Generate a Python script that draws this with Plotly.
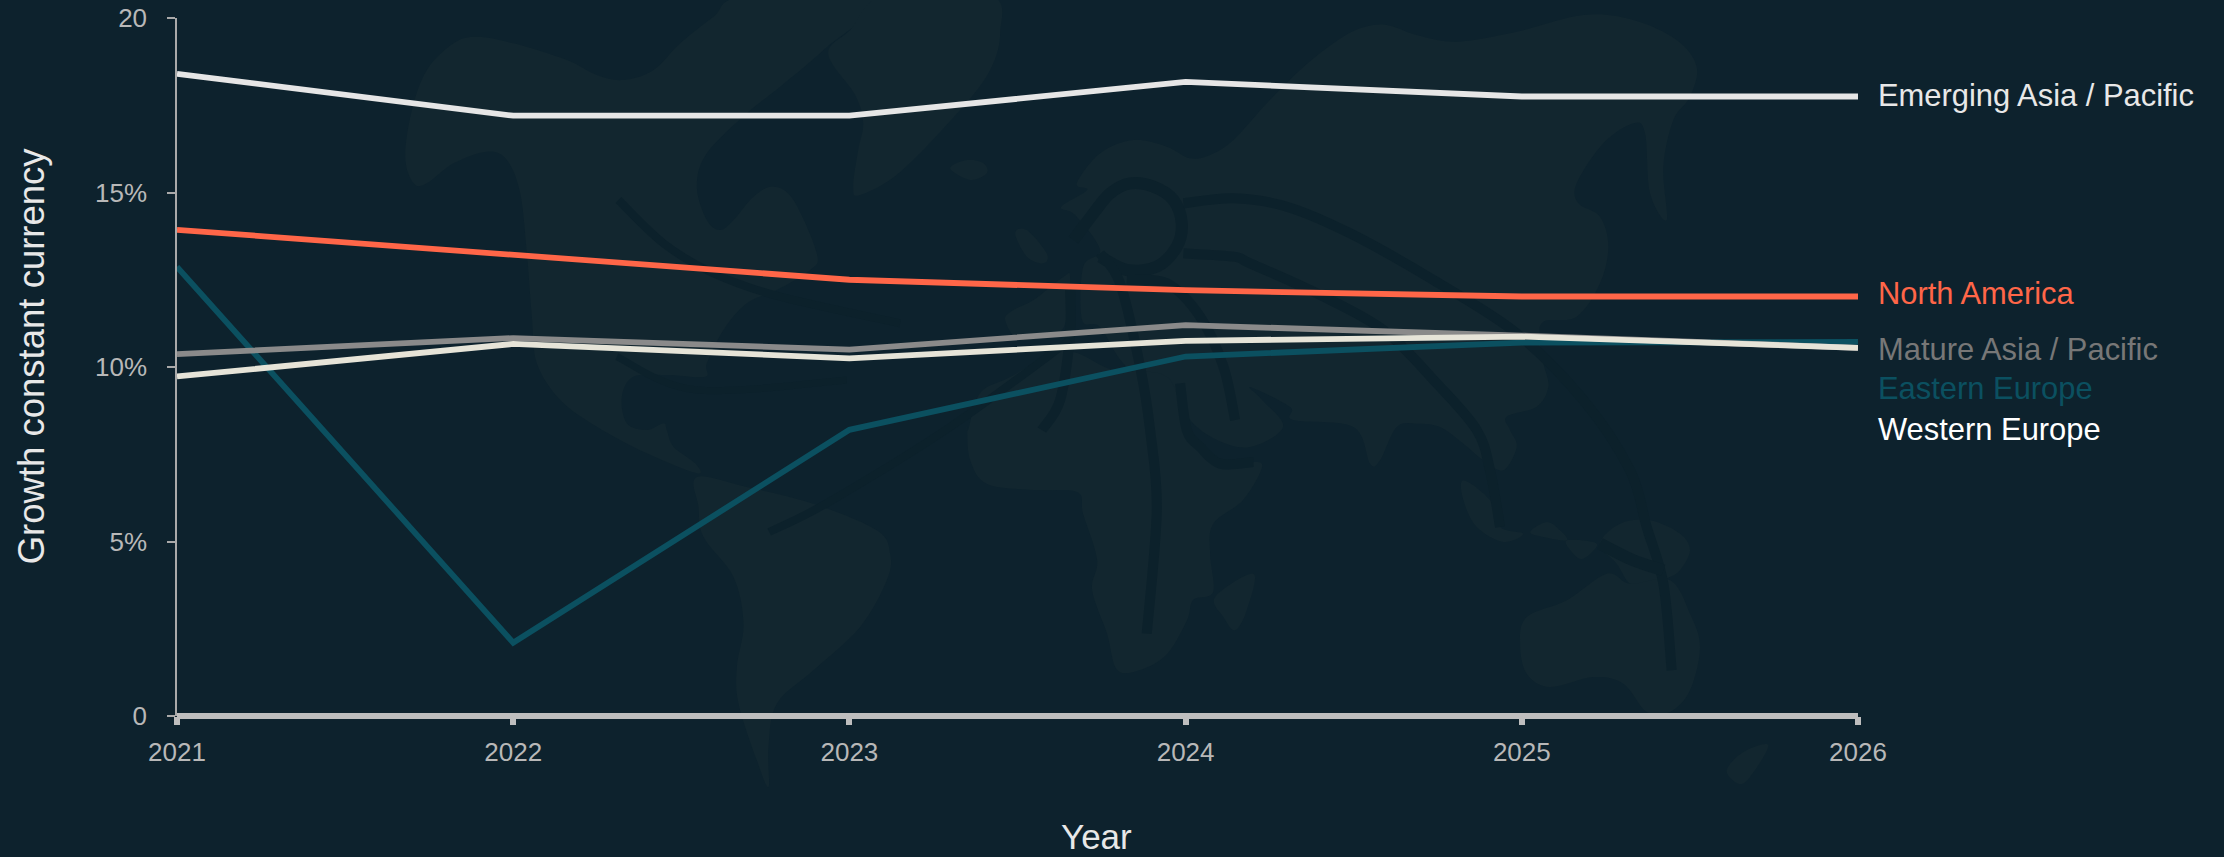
import plotly.graph_objects as go

# ---- chart data ----
years = [2021, 2022, 2023, 2024, 2025, 2026]
emerging_asia_pacific = [18.4, 17.2, 17.2, 18.17, 17.75, 17.75]
north_america = [13.93, 13.2, 12.5, 12.2, 12.02, 12.02]
mature_asia_pacific = [10.37, 10.83, 10.5, 11.2, 10.9, 10.55]
eastern_europe = [12.87, 2.1, 8.2, 10.3, 10.7, 10.72]
western_europe = [9.73, 10.66, 10.25, 10.75, 10.87, 10.55]

y_tick_values = [0, 5, 10, 15, 20]
y_tick_labels = ["0", "5%", "10%", "15%", "20"]

# ---- page geometry ----
W, H = 2224, 857
LEFT, RIGHT, TOP, BOTTOM = 176.75, 1858, 18, 716

BG = "#0d222d"
LAND = "#12262f"
ROUTE = "#0c212b"


def px(x, y):
    """Page pixels to paper fractions."""
    return (x - LEFT) / (RIGHT - LEFT), (BOTTOM - y) / (BOTTOM - TOP)


def tile(ox, oy, pts):
    """Outline sketched at triple scale, placed with its corner at (ox, oy)."""
    return [(ox + a / 3, oy + b / 3) for a, b in pts]


def smooth_path(pts, closed):
    """Catmull-Rom spline through pts, written as an SVG path in paper units."""
    n = len(pts)
    at = (lambda i: pts[i % n]) if closed else (lambda i: pts[max(0, min(n - 1, i))])
    x0, y0 = px(*pts[0])
    d = [f"M{x0:.5f},{y0:.5f}"]
    for i in range(n if closed else n - 1):
        p0, p1, p2, p3 = at(i - 1), at(i), at(i + 1), at(i + 2)
        c1 = px(p1[0] + (p2[0] - p0[0]) / 6, p1[1] + (p2[1] - p0[1]) / 6)
        c2 = px(p2[0] - (p3[0] - p1[0]) / 6, p2[1] - (p3[1] - p1[1]) / 6)
        e = px(*p2)
        d.append(f"C{c1[0]:.5f},{c1[1]:.5f} {c2[0]:.5f},{c2[1]:.5f} {e[0]:.5f},{e[1]:.5f}")
    if closed:
        d.append("Z")
    return "".join(d)


# ---- watermark world map: land masses ----
north_america_land = tile(380, 0, [
    (100, 550), (75, 470), (95, 330), (140, 210), (220, 130), (290, 110), (400, 130),
    (560, 180), (650, 225), (730, 240), (820, 210), (900, 130), (1000, 50), (1090, -10),
    (1490, -10), (1330, 150), (1200, 260), (1100, 340), (980, 460), (950, 560), (980, 660),
    (1020, 690), (1060, 660), (1120, 590), (1180, 560), (1240, 600), (1310, 760), (1290, 810),
    (1190, 870), (1100, 910), (1030, 990), (980, 1090), (975, 1130), (860, 1125), (760, 1130),
    (725, 1190), (740, 1270), (800, 1290), (850, 1270), (860, 1290), (880, 1340), (945, 1390),
    (950, 1420), (800, 1360), (650, 1280), (540, 1200), (470, 1090), (455, 950), (440, 760),
    (420, 580), (380, 480), (320, 455), (220, 490), (140, 550),
])
south_america_land = tile(380, 427, [
    (950, 150), (1100, 180), (1300, 230), (1490, 310), (1530, 380), (1520, 460), (1440, 600),
    (1300, 730), (1190, 830), (1165, 960), (1165, 1080), (1130, 1000), (1075, 830), (1070, 720),
    (1090, 590), (1060, 450), (970, 330), (955, 240),
])
greenland_land = [
    (860, 195), (853, 187), (858, 150), (863, 123), (855, 95), (828, 54), (850, 30), (885, -5),
    (990, -5), (1000, 33), (990, 70), (960, 110), (900, 172),
]
eurasia_land = (
    tile(900, 0, [
        (530, 550), (600, 460), (700, 420), (800, 440), (870, 475), (930, 465), (1000, 420),
        (1100, 310), (1200, 210), (1300, 130), (1380, 85), (1460, 75),
    ])
    + tile(1250, 0, [
        (500, 105), (620, 125), (800, 95), (1000, 45), (1150, 60), (1280, 120), (1340, 200),
        (1320, 290), (1270, 360), (1240, 500), (1250, 660), (1200, 580), (1185, 400), (1150, 370),
        (1060, 430), (980, 550), (985, 610), (1050, 650), (1075, 740), (1050, 850), (980, 950),
        (880, 965), (870, 1020), (880, 1090), (895, 1160), (860, 1220), (770, 1250), (780, 1290),
    ])
    + tile(1250, 427, [
        (800, 60), (760, 130), (700, 100), (640, 50), (570, 0), (500, -10), (440, 0), (390, 100),
        (360, 110), (310, 0),
    ])
    + [(1293, 420), (1290, 407), (1250, 387), (1262, 400), (1283, 427), (1250, 447), (1217, 440),
       (1190, 420), (1180, 395), (1127, 367), (1100, 327), (1082, 320), (1083, 267), (1100, 250),
       (1075, 215), (1061, 207), (1087, 190)]
)
africa_land = [
    (968, 430), (980, 393), (1010, 377), (1053, 353), (1077, 353), (1113, 370), (1167, 377),
    (1187, 427), (1220, 464), (1250, 462), (1262, 467), (1243, 500), (1213, 524), (1210, 554),
    (1213, 592), (1193, 600), (1187, 620), (1167, 654), (1140, 670), (1117, 670), (1107, 634),
    (1092, 590), (1097, 560), (1083, 514), (1077, 492), (1033, 490), (987, 484), (970, 460),
    (967, 427),
]
madagascar_land = tile(900, 427, [(945, 510), (1060, 440), (1040, 550), (1005, 610), (970, 570)])
iberia_land = tile(900, 0, [
    (315, 960), (340, 930), (400, 900), (490, 830), (510, 830), (500, 950), (470, 1000), (360, 1020),
])
britain_land = tile(900, 0, [(345, 700), (380, 690), (440, 760), (430, 790), (380, 770)])
iceland_land = tile(900, 0, [(150, 505), (200, 480), (250, 490), (260, 520), (210, 540)])
sumatra_land = tile(1250, 427, [
    (640, 160), (640, 220), (680, 300), (760, 345), (820, 320), (750, 300), (720, 220),
])
java_land = tile(1250, 427, [(840, 315), (890, 285), (930, 310), (950, 340), (880, 330)])
timor_land = tile(1250, 427, [(950, 340), (1040, 350), (1000, 395), (970, 380)])
new_guinea_land = tile(1250, 427, [
    (1050, 350), (1110, 290), (1200, 280), (1290, 320), (1320, 370), (1290, 430), (1250, 455),
    (1200, 480), (1140, 470), (1100, 410),
])
australia_land = tile(1250, 427, [
    (810, 650), (830, 570), (950, 520), (1070, 440), (1140, 470), (1260, 460), (1320, 560),
    (1350, 660), (1320, 790), (1260, 855), (1190, 855), (1120, 770), (1030, 750), (900, 780),
    (830, 740),
])
new_zealand_land = tile(1250, 427, [(1430, 1030), (1480, 975), (1555, 955), (1500, 1050), (1465, 1070)])

land_masses = [
    north_america_land, south_america_land, greenland_land, eurasia_land, africa_land,
    madagascar_land, iberia_land, britain_land, iceland_land, sumatra_land, java_land,
    timor_land, new_guinea_land, australia_land, new_zealand_land,
]

# ---- watermark world map: route curves radiating from the hub ----
hub_ring = tile(900, 0, [
    (600, 770), (680, 810), (770, 800), (830, 740), (845, 670), (820, 600), (760, 560), (690, 550),
    (630, 580), (580, 640), (520, 720),
])
route_far_east = (
    tile(900, 0, [(850, 610), (1000, 595), (1160, 620)])
    + tile(1250, 0, [(300, 700), (550, 840), (800, 1000), (1000, 1200)])
    + tile(1250, 427, [(1140, 130), (1190, 300), (1240, 470), (1265, 730)])
)
route_indonesia = (
    tile(900, 0, [(850, 760), (1000, 770)])
    + tile(1250, 0, [(0, 790), (200, 880), (400, 990), (560, 1150), (680, 1290)])
    + tile(1250, 427, [(720, 130), (750, 300)])
)
route_south_africa = (
    tile(900, 0, [(600, 760), (660, 850), (720, 1100), (750, 1290)])
    + tile(900, 427, [(770, 250), (740, 620)])
)
route_indian_ocean = tile(900, 0, [(680, 840), (800, 850), (900, 950), (970, 1100), (1005, 1260)])
route_west_africa = tile(900, 0, [(510, 870), (510, 1000), (480, 1200), (425, 1290)])
route_red_sea = (
    tile(900, 0, [(840, 1150), (860, 1290)])
    + tile(900, 427, [(900, 60), (960, 110), (1060, 105)])
)
route_north_atlantic = tile(380, 0, [(715, 600), (850, 730), (1000, 820), (1200, 890), (1560, 970)])
route_south_atlantic = [(769, 532), (827, 503), (950, 427), (1070, 340)]
route_caribbean = tile(380, 0, [(710, 1070), (950, 1170), (1400, 1140)])
route_australia_north = tile(1250, 427, [(1050, 350), (1150, 400), (1240, 430)])

route_curves = [
    (hub_ring, 12), (route_far_east, 10), (route_indonesia, 10), (route_south_africa, 10),
    (route_indian_ocean, 10), (route_west_africa, 10), (route_red_sea, 10),
    (route_north_atlantic, 8), (route_south_atlantic, 8), (route_caribbean, 7),
    (route_australia_north, 12),
]

shapes = []
for outline in land_masses:
    shapes.append(dict(type="path", xref="paper", yref="paper", layer="below",
                       path=smooth_path(outline, True), fillcolor=LAND, line=dict(width=0)))
for curve, width in route_curves:
    shapes.append(dict(type="path", xref="paper", yref="paper", layer="below",
                       path=smooth_path(curve, False), line=dict(color=ROUTE, width=width)))

# ---- series, back to front ----
series = [
    ("Emerging Asia / Pacific", emerging_asia_pacific, "#e6e6e6"),
    ("North America", north_america, "#ff6648"),
    ("Eastern Europe", eastern_europe, "#0b5060"),
    ("Mature Asia / Pacific", mature_asia_pacific, "#8a8a8a"),
    ("Western Europe", western_europe, "#e6e4d8"),
]

fig = go.Figure()
for name, values, color in series:
    fig.add_trace(go.Scatter(x=years, y=values, mode="lines", name=name, cliponaxis=False,
                             line=dict(color=color, width=5.8), hoverinfo="skip"))

# ---- end-of-line labels, nudged apart so they stay readable ----
end_labels = [
    ("Emerging Asia / Pacific", 95, "#e8e8e8"),
    ("North America", 293, "#ff6648"),
    ("Mature Asia / Pacific", 349, "#777777"),
    ("Eastern Europe", 388, "#0b5060"),
    ("Western Europe", 430, "#ffffff"),
]
annotations = []
for text, y_px, color in end_labels:
    ax_x, ax_y = px(1876, y_px)
    annotations.append(dict(text=text, x=ax_x, y=ax_y, xref="paper", yref="paper", showarrow=False,
                            xanchor="left", yanchor="middle", align="left",
                            font=dict(family="Liberation Sans", size=30.9, color=color)))

# ---- axis titles ----
year_x, year_y = px(1096, 836)
growth_x, growth_y = px(31, 356)
annotations.append(dict(text="Year", x=year_x, y=year_y, xref="paper", yref="paper", showarrow=False,
                        xanchor="center", yanchor="middle",
                        font=dict(family="Liberation Sans", size=35, color="#e8e8e8")))
annotations.append(dict(text="Growth constant currency", x=growth_x, y=growth_y, xref="paper",
                        yref="paper", showarrow=False, textangle=-90,
                        xanchor="center", yanchor="middle",
                        font=dict(family="Liberation Sans", size=36.5, color="#e8e8e8")))

fig.update_layout(
    width=W, height=H,
    autosize=False,
    paper_bgcolor=BG,
    plot_bgcolor=BG,
    showlegend=False,
    hovermode=False,
    margin=dict(l=LEFT, r=W - RIGHT, t=TOP, b=H - BOTTOM, pad=0),
    shapes=shapes,
    annotations=annotations,
    font=dict(family="Liberation Sans"),
    xaxis=dict(
        range=[2021, 2026],
        automargin=False,
        tickmode="array", tickvals=years, ticktext=[str(y) for y in years],
        showgrid=False, zeroline=False, showline=False,
        ticks="outside", ticklen=8, tickwidth=6, tickcolor="#bebebe",
        ticklabelstandoff=5,
        tickfont=dict(family="Liberation Sans", size=26, color="#b8b8b8"),
    ),
    yaxis=dict(
        range=[0, 20],
        automargin=False,
        tickmode="array", tickvals=y_tick_values, ticktext=y_tick_labels,
        showgrid=False,
        zeroline=True, zerolinewidth=6, zerolinecolor="#bebebe",
        showline=True, linewidth=1.5, linecolor="#a9a9a9",
        ticks="outside", ticklen=8, tickwidth=1.5, tickcolor="#a9a9a9",
        ticklabelstandoff=15,
        tickfont=dict(family="Liberation Sans", size=26, color="#b8b8b8"),
    ),
)

fig.write_html("out.html", config=dict(displayModeBar=False))
